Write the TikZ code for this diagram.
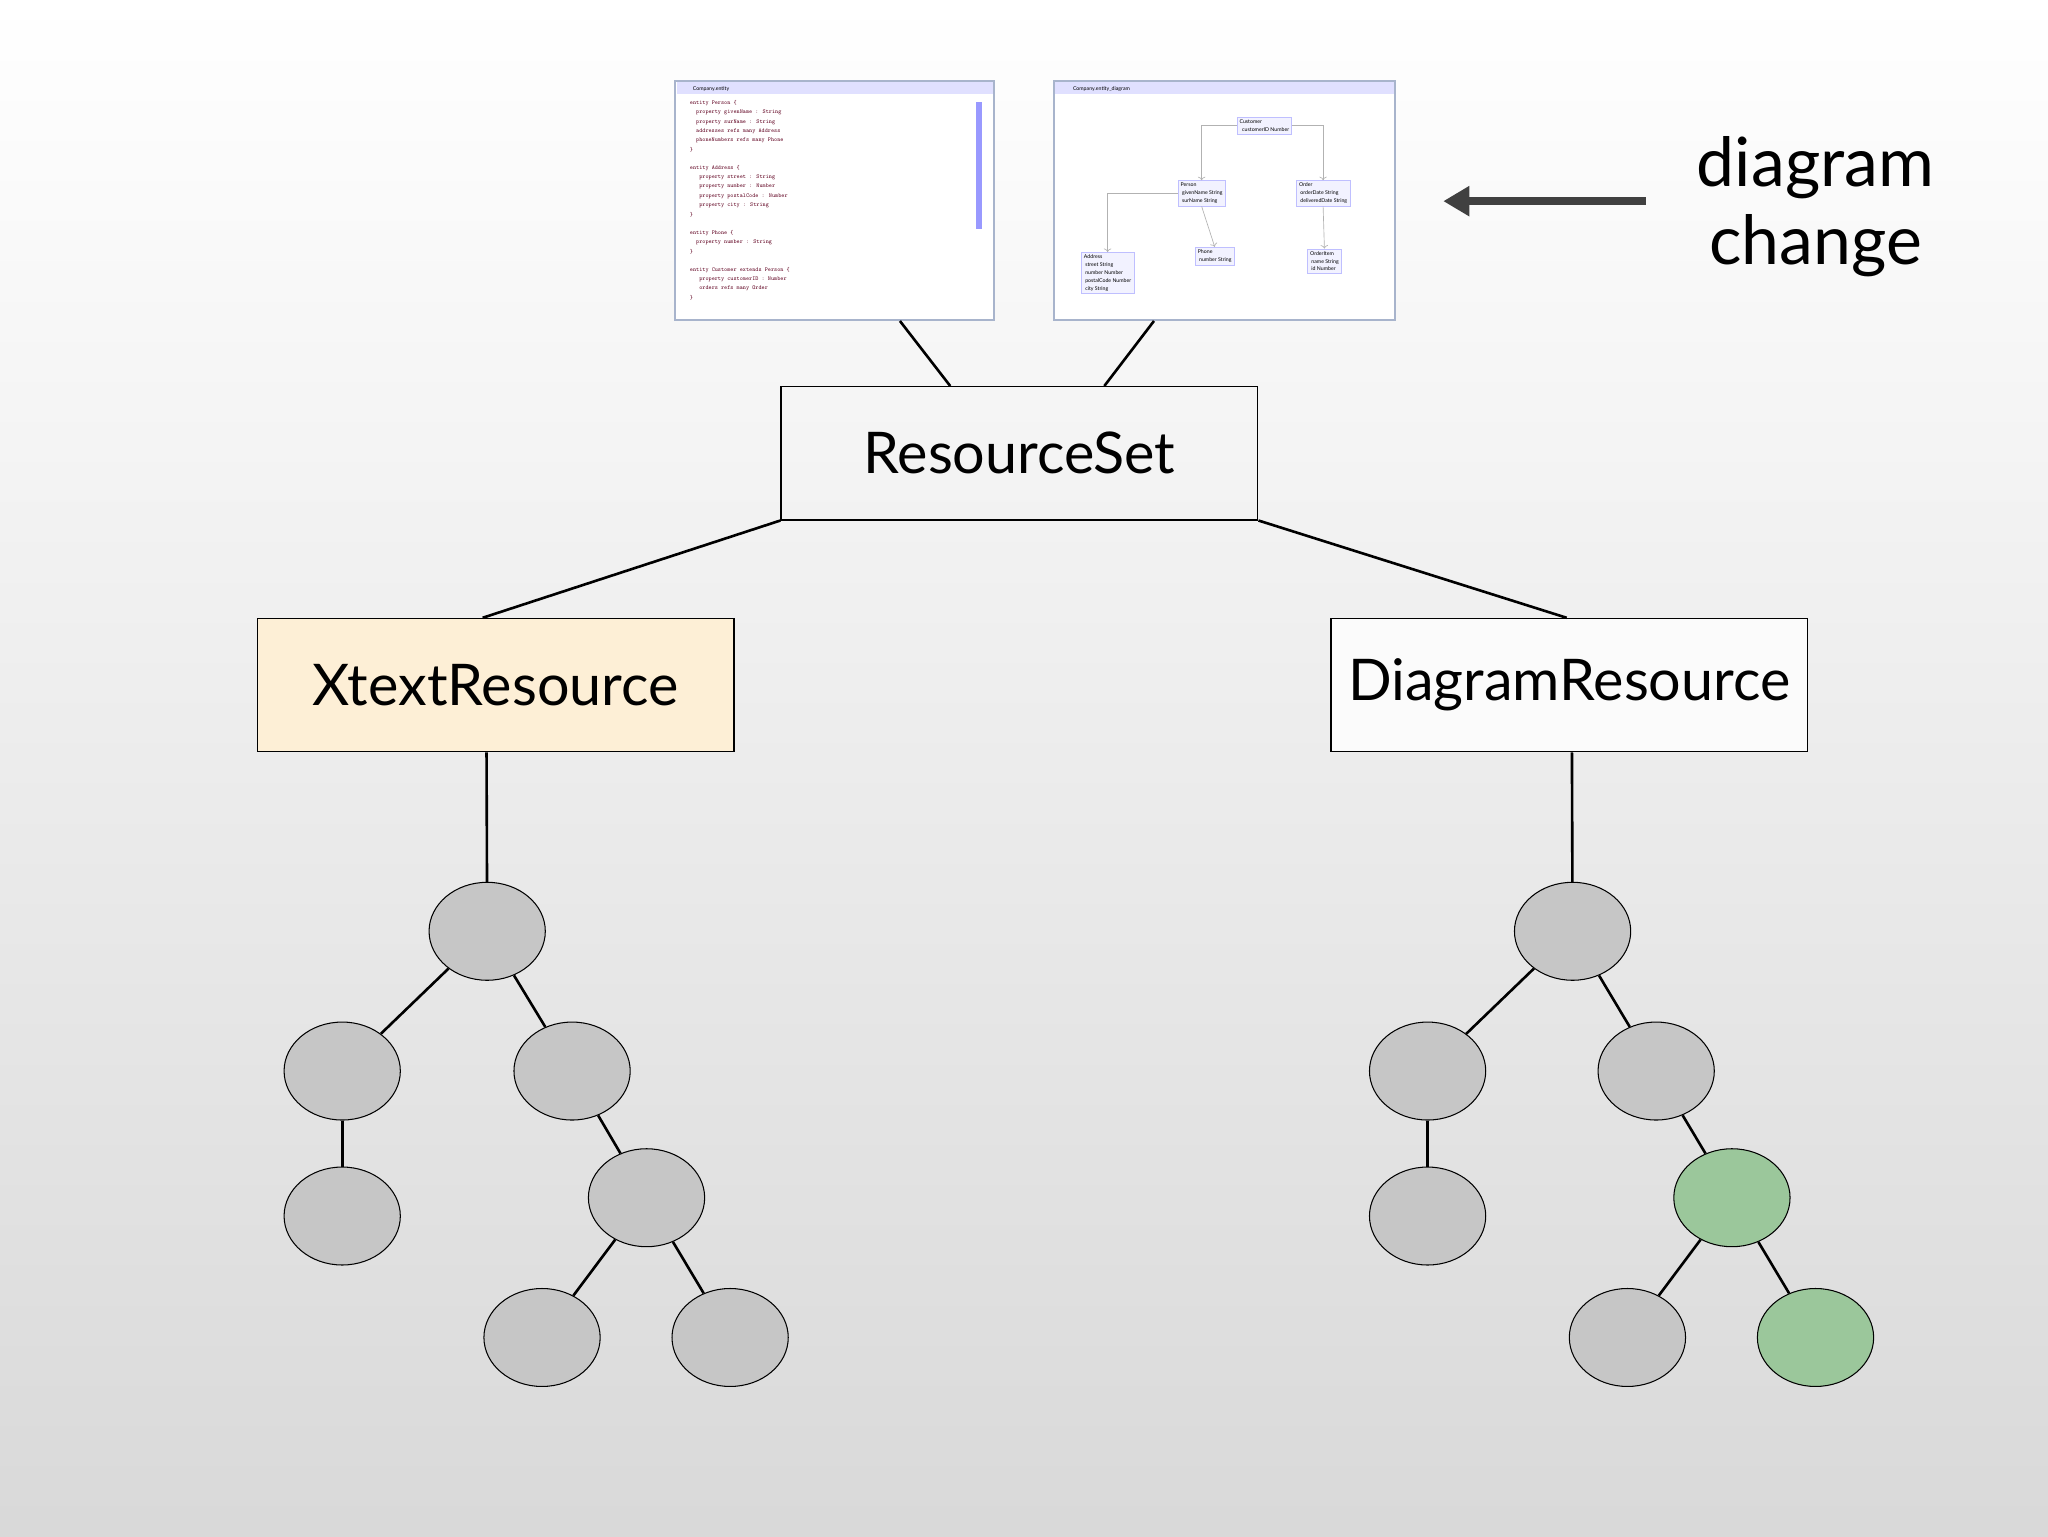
\documentclass[tikz,border=0pt]{standalone}
\usepackage{fontspec}
\setmainfont{Lato}
\usetikzlibrary{calc,arrows.meta,shapes.geometric}
\definecolor{tree}{HTML}{C6C6C6}
\definecolor{leafg}{HTML}{9BC79B}
\definecolor{xt}{HTML}{FDEFD6}
\definecolor{wb}{HTML}{A8B4CC}
\begin{document}
\begin{tikzpicture}[x=1pt,y=-1pt,
  box/.style={draw,line width=1pt,minimum width=365pt,minimum height=102pt,inner sep=0,font=\fontsize{44}{50}\selectfont},
  tn/.style={ellipse,draw,line width=0.8pt,fill=tree,minimum width=89pt,minimum height=75pt,inner sep=0},
  gn/.style={tn,fill=leafg},
  ln/.style={line width=2pt},
  win/.style={draw=wb,line width=1.5pt,fill=white,inner sep=0},
  code/.style={font=\fontsize{4.5}{5}\ttfamily,anchor=west,text=purple!50!black,inner sep=0},
  cls/.style={draw=blue!25,fill=blue!5,font=\fontsize{4}{6}\selectfont,inner sep=2pt,align=left}]
\shade[top color=white,bottom color=gray!30] (0,0) rectangle (1568,1176);
\useasboundingbox (0,0) rectangle (1568,1176);
% screenshots
\node[win,minimum width=244pt,minimum height=183pt] (s1) at (639,153.5) {};
\node[win,minimum width=261pt,minimum height=183pt] (s2) at (937.5,153.5) {};
\fill[blue!12] (518,63) rectangle (760,72);
\fill[blue!12] (808,63) rectangle (1067,72);
\node[font=\fontsize{4}{4}\selectfont,anchor=west] at (527,68) {Company.entity};
\node[font=\fontsize{4}{4}\selectfont,anchor=west] at (818,68) {Company.entity\_diagram};
\fill[blue!40] (747,78) rectangle (752,175);
\foreach \t [count=\i] in {entity Person \{,\ \ property givenName : String,\ \ property surName : String,\ \ addresses refs many Address,\ \ phoneNumbers refs many Phone,\},,entity Address \{,\ \ \ property street : String,\ \ \ property number : Number,\ \ \ property postalCode : Number,\ \ \ property city : String,\},,entity Phone \{,\ \ property number : String,\},,entity Customer extends Person \{,\ \ \ property customerID : Number,\ \ \ orders refs many Order,\}}
  \node[code] at (528,72+7.1*\i) {\t};
\node[cls] (c1) at (968,96) {Customer\\ \ \ customerID Number};
\node[cls] (c2) at (920,148) {Person\\ \ givenName String\\ \ surName String};
\node[cls] (c3) at (1013,148) {Order\\ \ orderDate String\\ \ deliveredDate String};
\node[cls] (c4) at (848,209) {Address\\ \ street String\\ \ number Number\\ \ postalCode Number\\ \ city String};
\node[cls] (c5) at (930,196) {Phone\\ \ number String};
\node[cls] (c6) at (1014,200) {OrderItem\\ \ name String\\ \ id Number};
\begin{scope}[draw=gray!60,line width=0.5pt,->]
\draw (c1.west) -| (c2.north);
\draw (c1.east) -| (c3.north);
\draw (c2.west) -| (c4.north);
\draw (c2.south) -- (c5.north);
\draw (c3.south) -- (c6.north);
\end{scope}
% boxes
\node[box] (rs) at (780.5,347) {ResourceSet};
\node[box,fill=xt] (xr) at (379.5,524.5) {XtextResource};
\node[box,fill=white!97!gray] (dr) at (1201.5,524.5) {DiagramResource};
\draw[ln] ($(s1.south)+(50,0)$) -- ($(rs.north)+(-53,0)$);
\draw[ln] ($(s2.south)+(-54,0)$) -- ($(rs.north)+(65,0)$);
\draw[ln] (rs.south west) -- ($(xr.north)+(-10,0)$);
\draw[ln] (rs.south east) -- ($(dr.north)+(-2,0)$);
% arrow
\coordinate (a1) at (1260,154);
\coordinate (a2) at (1105,154);
\draw[line width=6pt,draw=black!75,-{Triangle[length=20pt,width=22pt]}] (a1) -- (a2);
\node[font=\fontsize{52}{60}\selectfont,align=center] (dc) at (1390,158) {diagram\\change};
% left tree
\node[tn] (l0) at (373,713) {};
\node[tn] (l1) at (262,820) {};
\node[tn] (l2) at (438,820) {};
\node[tn] (l3) at (262,931) {};
\node[tn] (l4) at (495,917) {};
\node[tn] (l5) at (415,1024) {};
\node[tn] (l6) at (559,1024) {};
\draw[ln] ($(xr.south)+(-7,0)$) -- (l0);
\draw[ln] (l0) -- (l1); \draw[ln] (l0) -- (l2); \draw[ln] (l1) -- (l3);
\draw[ln] (l2) -- (l4); \draw[ln] (l4) -- (l5); \draw[ln] (l4) -- (l6);
% right tree
\node[tn] (r0) at (1204,713) {};
\node[tn] (r1) at (1093,820) {};
\node[tn] (r2) at (1268,820) {};
\node[tn] (r3) at (1093,931) {};
\node[gn] (r4) at (1326,917) {};
\node[tn] (r5) at (1246,1024) {};
\node[gn] (r6) at (1390,1024) {};
\draw[ln] ($(dr.south)+(2,0)$) -- (r0);
\draw[ln] (r0) -- (r1); \draw[ln] (r0) -- (r2); \draw[ln] (r1) -- (r3);
\draw[ln] (r2) -- (r4); \draw[ln] (r4) -- (r5); \draw[ln] (r4) -- (r6);
\end{tikzpicture}
\end{document}
